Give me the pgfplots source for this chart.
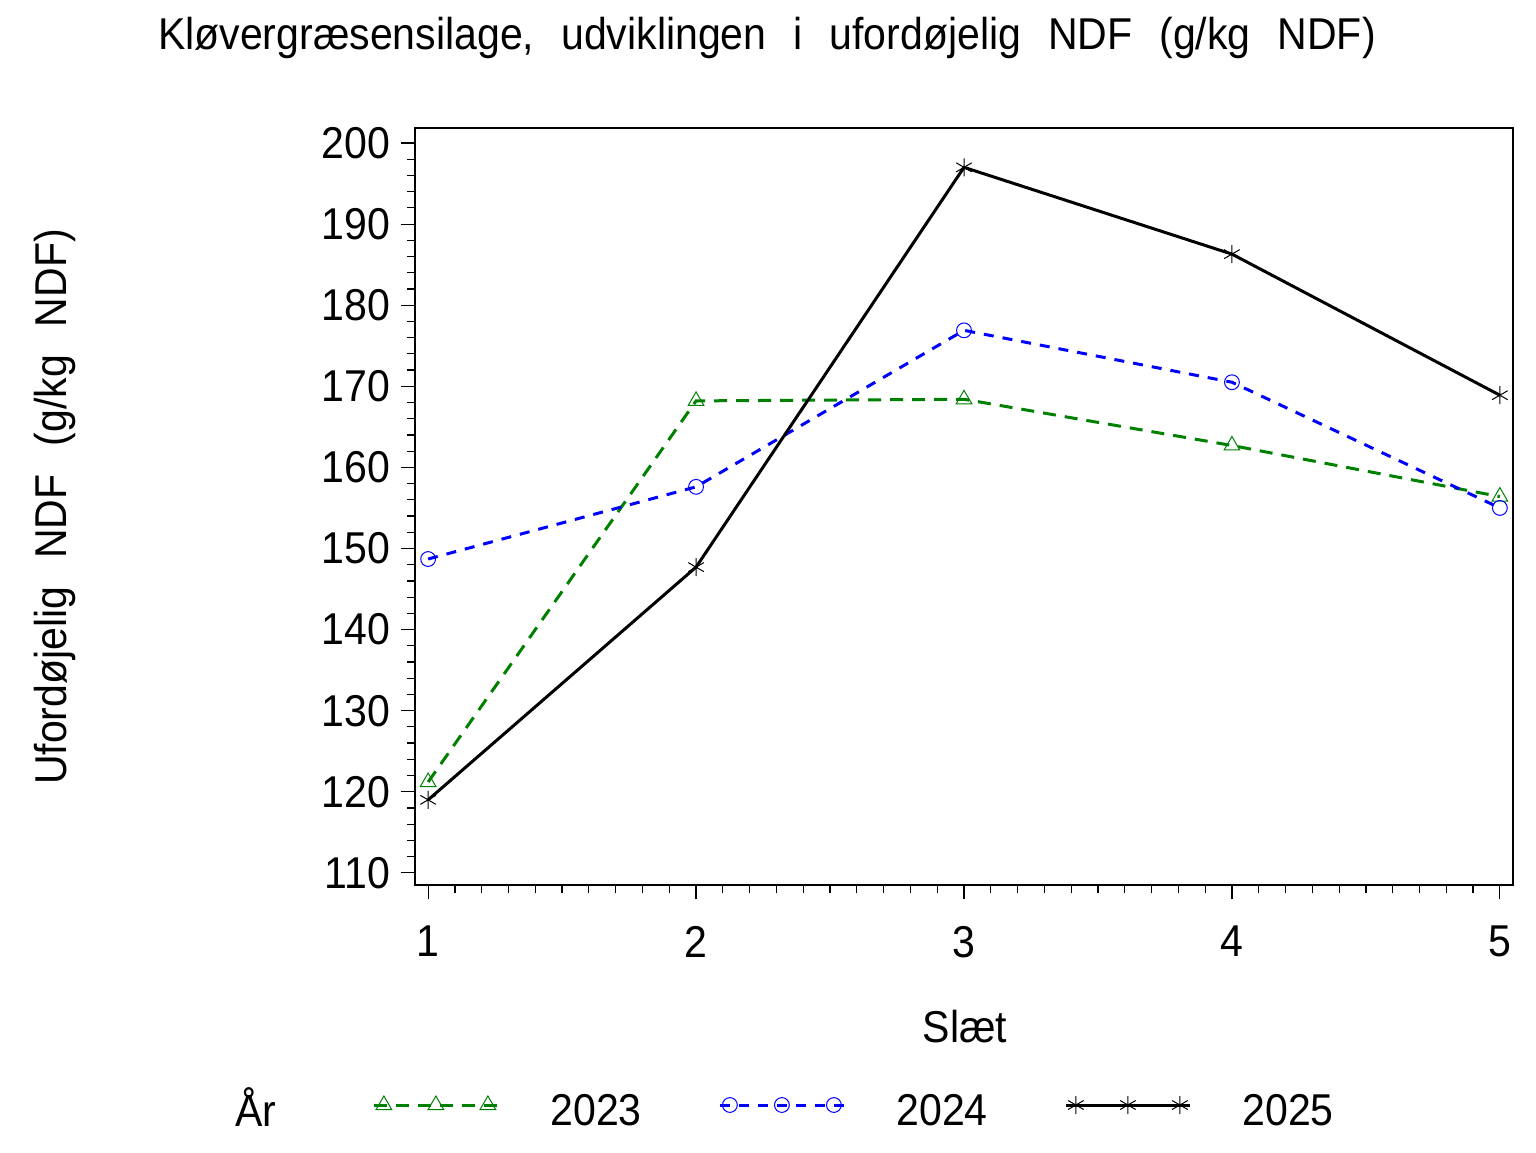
\documentclass[border=0pt]{standalone}
\usepackage{fontspec}
\setmainfont{Liberation Sans}[FakeStretch=0.92]
\usepackage{pgfplots}
\pgfplotsset{compat=1.18}
\definecolor{sasgreen}{RGB}{0,128,0}
\definecolor{sasblue}{RGB}{0,0,255}
\newcommand{\bigfont}{\fontsize{22.3}{26}\selectfont}
\begin{document}
\begin{tikzpicture}
\useasboundingbox (-207.5pt,-133.5pt) rectangle (560.5pt,442.5pt);
\begin{axis}[
  at={(0pt,0pt)}, anchor=south west,
  scale only axis, width=549pt, height=378.5pt,
  xmin=0.951, xmax=5.049, ymin=108.5, ymax=201.85,
  xtick={1,2,3,4,5}, ytick={110,120,...,200},
  minor x tick num=9, minor y tick num=4,
  tick align=outside, tickpos=left,
  major tick length=7pt, minor tick length=4pt,
  tick style={line width=0.6pt, black},
  axis line style={line width=0.6pt},
  /pgf/number format/assume math mode=true,
  ticklabel style={font=\bigfont},
  yticklabel style={xshift=-2pt},
  xticklabel style={yshift=-10pt},
  legend columns=3,
  legend style={at={(-21.5pt,-113pt)}, anchor=west, draw=none, fill=none,
    inner sep=0pt, font=\bigfont,
    nodes={inner sep=0pt, text width=46.5pt, align=left},
    /tikz/every odd column/.append style={column sep=25.5pt},
    /tikz/every even column/.append style={column sep=37.5pt}},
  legend image code/.code={
    \draw[#1] (-5pt,3pt) -- (57pt,3pt);
    \draw[#1, only marks] plot coordinates {(0pt,3pt) (26pt,3pt) (52pt,3pt)};},
]
\addplot[sasgreen, line width=1.5pt, dash pattern=on 6.5pt off 4.5pt,
  mark=triangle, mark size=4.5pt, mark options={solid, line width=0.5pt}]
  coordinates {(1,121.2) (2,168.2) (3,168.4) (4,162.7) (5,156.4)};
\addlegendentry{2023}
\addplot[sasblue, line width=1.5pt, dash pattern=on 5pt off 4.5pt,
  mark=o, mark size=3.7pt, mark options={solid, line width=0.5pt}]
  coordinates {(1,148.7) (2,157.6) (3,176.9) (4,170.5) (5,155.0)};
\addlegendentry{2024}
\addplot[black, line width=1.5pt, solid,
  mark=asterisk, mark size=4.5pt, mark options={solid, line width=0.5pt}]
  coordinates {(1,119.0) (2,147.7) (3,197.0) (4,186.3) (5,168.9)};
\addlegendentry{2025}
\end{axis}
\node[font=\bigfont, anchor=center] at (176pt,423.5pt) {Kløvergræsensilage,\hspace{13.5pt}udviklingen\hspace{13.5pt}i\hspace{13.5pt}ufordøjelig\hspace{13.5pt}NDF\hspace{13.5pt}(g/kg\hspace{13.5pt}NDF)};
\node[font=\bigfont, rotate=90, anchor=center] at (-180pt,189pt) {Ufordøjelig\hspace{14pt}NDF\hspace{14pt}(g/kg\hspace{14pt}NDF)};
\node[font=\bigfont, anchor=center] at (275pt,-71pt) {Slæt};
\node[font=\bigfont, anchor=west, inner sep=0pt] at (-90pt,-111pt) {År};
\end{tikzpicture}
\end{document}
